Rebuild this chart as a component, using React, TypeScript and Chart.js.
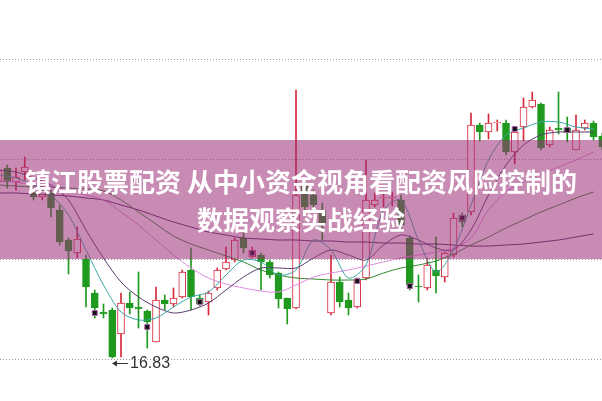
import React, { useEffect, useRef } from "react";
import { Chart, registerables } from "chart.js";

Chart.register(...registerables);

// Candles (index 0..69)
const opens = [20.35, 20.63, 20.35, 20.55, 20.15, 20.05, 20.13, 19.79, 19.19, 18.93,
  18.81, 18.13, 17.75, 17.79, 17.31, 17.93, 17.85, 17.77, 17.15, 17.99,
  17.91, 18.05, 18.59, 18.03, 17.95, 18.23, 18.61, 18.79, 19.23, 18.85,
  18.89, 18.75, 18.53, 18.03, 17.83, 20.29, 20.09, 19.79, 17.73, 18.35,
  17.99, 17.85, 18.43, 19.89, 20.03, 20.03, 19.99, 19.23, 18.27, 18.23,
  18.59, 18.45, 18.89, 19.69, 19.75, 21.49, 21.35, 21.53, 21.53, 20.95,
  21.45, 21.85, 21.91, 21.09, 21.43, 21.43, 20.99, 21.43, 21.53, 21.27];
const highs = [20.79, 20.69, 20.63, 20.85, 20.21, 20.27, 20.19, 19.89, 19.23, 19.45,
  18.89, 18.19, 17.91, 17.83, 18.13, 18.15, 18.55, 17.79, 18.25, 18.09,
  18.23, 18.59, 19.03, 18.09, 18.17, 18.63, 19.05, 19.23, 19.33, 19.05,
  18.93, 18.79, 18.55, 18.03, 22.19, 20.39, 20.19, 19.93, 18.89, 18.45,
  18.13, 18.43, 20.79, 20.13, 20.13, 20.15, 20.09, 19.27, 18.49, 18.83,
  19.25, 18.95, 19.73, 19.73, 21.73, 21.53, 21.71, 21.59, 21.59, 21.45,
  22.03, 22.15, 21.93, 21.45, 22.15, 21.65, 21.69, 21.59, 21.57, 21.33];
const lows = [20.19, 20.23, 20.19, 20.39, 19.99, 19.99, 19.65, 19.09, 18.51, 18.83,
  17.85, 17.63, 17.63, 16.83, 16.85, 17.71, 17.43, 17.03, 17.15, 17.79,
  17.85, 18.03, 17.79, 17.87, 17.69, 18.19, 18.59, 18.75, 18.93, 18.83,
  18.19, 18.43, 17.83, 17.51, 17.81, 19.79, 19.75, 19.19, 17.69, 17.85,
  17.69, 17.83, 18.39, 19.85, 19.85, 19.87, 19.35, 18.19, 17.95, 18.19,
  18.13, 18.35, 18.85, 19.45, 19.69, 21.17, 21.21, 21.37, 20.89, 20.71,
  21.17, 21.83, 20.99, 21.05, 21.31, 21.15, 20.99, 21.39, 21.19, 20.99];
const closes = [20.59, 20.35, 20.45, 20.65, 20.05, 20.19, 19.83, 19.15, 18.97, 19.21,
  18.25, 17.83, 17.71, 16.85, 17.93, 17.83, 17.81, 17.55, 17.99, 17.91,
  18.03, 18.55, 18.05, 17.91, 18.13, 18.59, 18.75, 19.19, 19.03, 18.99,
  18.75, 18.49, 18.01, 17.81, 20.09, 19.85, 19.89, 19.49, 18.35, 17.95,
  17.83, 18.39, 19.99, 19.99, 20.05, 20.05, 19.49, 18.29, 18.25, 18.69,
  18.47, 18.93, 19.63, 19.55, 21.49, 21.35, 21.53, 21.55, 20.95, 21.35,
  21.85, 21.99, 21.03, 21.39, 21.39, 21.33, 21.39, 21.53, 21.25, 21.05];

// Signal markers
const markerIdx = [11, 17, 23, 29, 41, 47, 53, 59, 65];
const markerVal = [17.73, 17.45, 17.95, 18.93, 18.37, 18.27, 19.63, 21.41, 21.39];

// Moving averages sampled at even indices 0,2,...,68
const ma5 = [20.49, 20.43, 20.29, 20.09, 19.69, 18.99, 18.29, 17.75, 17.59, 17.63,
  17.85, 18.05, 18.15, 18.49, 18.79, 18.75, 18.49, 18.59, 19.19, 18.99,
  18.43, 18.69, 19.79, 19.99, 19.19, 18.55, 18.99, 19.89, 20.79, 21.29,
  21.43, 21.55, 21.55, 21.45, 21.41];
const ma10 = [20.59, 20.55, 20.43, 20.29, 19.99, 19.39, 18.83, 18.35, 18.05, 17.85,
  17.73, 17.79, 17.93, 18.19, 18.45, 18.63, 18.63, 18.63, 18.83, 18.99,
  18.89, 18.79, 19.09, 19.29, 19.19, 19.03, 18.99, 19.39, 20.09, 20.69,
  21.09, 21.29, 21.35, 21.35, 21.35];
const ma20 = [20.39, 20.35, 20.29, 20.25, 20.19, 20.09, 19.99, 19.75, 19.49, 19.19,
  18.89, 18.63, 18.43, 18.31, 18.23, 18.17, 18.15, 18.29, 18.45, 18.53,
  18.59, 18.67, 18.75, 18.83, 18.89, 18.95, 19.03, 19.23, 19.79, 20.15,
  20.35, 20.51, 20.65, 20.79, 20.95];
const ma30 = [20.29, 20.27, 20.25, 20.25, 20.23, 20.21, 20.17, 19.99, 19.75, 19.51,
  19.27, 19.11, 18.99, 18.87, 18.75, 18.59, 18.49, 18.43, 18.41, 18.39,
  18.39, 18.41, 18.53, 18.63, 18.69, 18.77, 18.91, 19.09, 19.25, 19.43,
  19.59, 19.75, 19.89, 20.03, 20.15];
const ma60 = [20.13, 20.13, 20.11, 20.09, 20.07, 20.03, 19.99, 19.89, 19.79, 19.67,
  19.55, 19.45, 19.35, 19.29, 19.23, 19.21, 19.19, 19.19, 19.17, 19.17,
  19.15, 19.15, 19.13, 19.13, 19.11, 19.11, 19.09, 19.07, 19.07, 19.09,
  19.11, 19.15, 19.19, 19.25, 19.31];

const gridValues = [16.81, 18.81, 20.81, 22.81];
const lowLabel = "16.83";
const titleLine1 = "镇江股票配资 从中小资金视角看配资风险控制的";
const titleLine2 = "数据观察实战经验";

const UP = "#d8283c";
const DOWN = "#1f9a1f";

export default function App() {
  const ref = useRef<HTMLCanvasElement | null>(null);
  useEffect(() => {
    if (!ref.current) return;
    const idx = opens.map((_, i) => i);
    const isUp = (i: number) => closes[i] >= opens[i];
    const maData = (arr: number[]) => arr.map((v, k) => ({ x: k * 2, y: v }));
    const lowIdx = lows.indexOf(Math.min(...lows));

    const lowPlugin = {
      id: "lowLabel",
      afterDatasetsDraw(chart: any) {
        const { ctx, scales } = chart;
        const x = Math.round(scales.x.getPixelForValue(lowIdx));
        const y = Math.round(scales.y.getPixelForValue(lows[lowIdx])) + 5.5;
        ctx.save();
        ctx.strokeStyle = "#333";
        ctx.fillStyle = "#333";
        ctx.lineWidth = 1;
        ctx.beginPath();
        ctx.moveTo(x + 1, y);
        ctx.lineTo(x + 16, y);
        ctx.stroke();
        ctx.beginPath();
        ctx.moveTo(x, y);
        ctx.lineTo(x + 5, y - 3);
        ctx.lineTo(x + 5, y + 3);
        ctx.closePath();
        ctx.fill();
        ctx.font = "16px 'Liberation Sans', Arial, sans-serif";
        ctx.textBaseline = "middle";
        ctx.textAlign = "left";
        ctx.fillText(lowLabel, x + 18, y);
        ctx.restore();
      },
    };

    const line = (data: number[], color: string) =>
      ({ type: "line", data: maData(data), borderColor: color, borderWidth: 1, pointRadius: 0, tension: 0.3, order: 1 } as any);

    const chart = new Chart(ref.current, {
      type: "bar",
      data: {
        datasets: [
          {
            type: "line",
            data: markerIdx.map((m, k) => ({ x: m, y: markerVal[k] })),
            showLine: false,
            pointStyle: "rect",
            pointRadius: 3.5,
            backgroundColor: "#111",
            borderColor: "#b060b0",
            borderWidth: 1,
            order: 0,
          } as any,
          line(ma5, "#3aa6a6"),
          line(ma10, "#5b3b6e"),
          line(ma20, "#e08ae0"),
          line(ma30, "#2d862d"),
          line(ma60, "#4a2c5c"),
          {
            type: "bar",
            data: idx.map((i) => ({ x: i, y: [opens[i], closes[i]] })),
            barThickness: 7,
            grouped: false,
            backgroundColor: idx.map((i) => (isUp(i) ? "#ffffff" : DOWN)),
            borderColor: idx.map((i) => (isUp(i) ? UP : DOWN)),
            borderWidth: 1,
            borderSkipped: false,
            order: 2,
          } as any,
          {
            type: "bar",
            data: idx.map((i) => ({ x: i, y: [lows[i], highs[i]] })),
            barThickness: 1,
            grouped: false,
            backgroundColor: idx.map((i) => (isUp(i) ? UP : DOWN)),
            borderWidth: 0,
            order: 3,
          } as any,
        ],
      },
      options: {
        animation: false,
        responsive: false,
        devicePixelRatio: 1,
        layout: { padding: 0, autoPadding: false },
        plugins: { legend: { display: false }, tooltip: { enabled: false } },
        scales: {
          x: { type: "linear", min: 0.171, max: 68.971, offset: false, display: false },
          y: {
            type: "linear",
            min: 15.97,
            max: 23.99,
            afterBuildTicks: (s: any) => {
              s.ticks = gridValues.map((v) => ({ value: v }));
            },
            afterFit: (s: any) => {
              s.width = 0;
            },
            ticks: { display: false },
            border: { display: false, dash: [1, 2] },
            grid: { color: "#9a9a9a", drawTicks: false, lineWidth: 1 },
          } as any,
        },
      } as any,
      plugins: [lowPlugin],
    });
    return () => chart.destroy();
  }, []);

  return (
    <div style={{ position: "fixed", left: 0, top: 0, width: 602, height: 401, background: "#fff", overflow: "hidden" }}>
      <canvas ref={ref} width={602} height={401} style={{ position: "absolute", left: 0, top: 0 }} />
      <div
        style={{
          position: "absolute",
          left: 0,
          top: 140,
          width: 602,
          height: 119,
          background: "rgba(155,45,118,0.55)",
        }}
      />
      <div
        style={{
          position: "absolute",
          left: 0,
          width: 602,
          top: 162,
          lineHeight: "38px",
          textAlign: "center",
          color: "#fff",
          fontFamily: "'Noto Sans CJK SC', sans-serif",
          fontWeight: 700,
          fontSize: 26,
          whiteSpace: "nowrap",
        }}
      >
        <div>{titleLine1}</div>
        <div>{titleLine2}</div>
      </div>
    </div>
  );
}
